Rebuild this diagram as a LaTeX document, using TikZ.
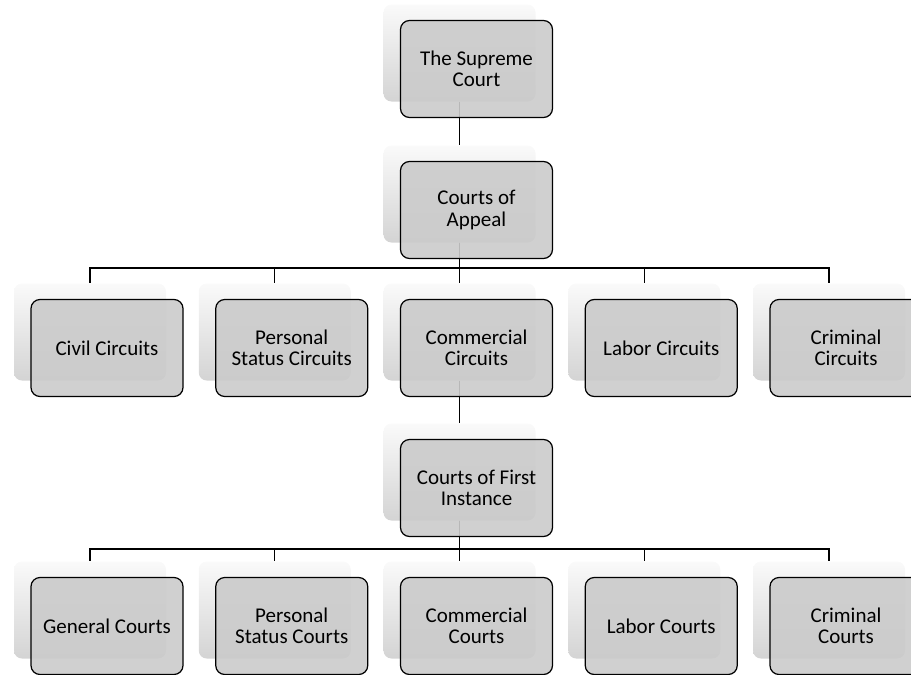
\documentclass[tikz,border=0pt]{standalone}
\usepackage{fontspec}
\setmainfont{Carlito}
\usetikzlibrary{calc}

\begin{document}
\begin{tikzpicture}[x=1pt,y=-1pt,
    card/.style={minimum width=152pt,minimum height=97pt,inner sep=0pt,
      rounded corners=8pt,top color=gray!4,bottom color=gray!34},
    face/.style={minimum width=152pt,minimum height=97pt,inner sep=2pt,
      rounded corners=9pt,draw=black,line width=1.2pt,fill=gray!41,
      fill opacity=0.9,text opacity=1,align=center,
      font=\fontsize{21}{21.5}\selectfont},
    link/.style={line width=1.2pt}]
  \useasboundingbox (0,0) rectangle (911,675);

  % Back cards
  \node[card] (sup) at (459.5,53) {};
  \node[card] (app) at (459.5,194) {};
  \foreach \n/\x in {civ/90,per/274.75,com/459.5,lab/644.25,cri/829}
    \node[card] (\n) at (\x,332) {};
  \node[card] (ins) at (459.5,472) {};
  \foreach \n/\x in {gen/90,pst/274.75,cmc/459.5,lbc/644.25,crc/829}
    \node[card] (\n) at (\x,610) {};

  % Connectors
  \coordinate (bus1) at (0,268);
  \coordinate (bus2) at (0,549);
  \draw[link] (sup.south) -- (app.north);
  \foreach \n in {civ,per,com,lab,cri}
    \draw[link] (app.south) -- (app.south |- bus1) -| (\n.north);
  \draw[link] (com.south) -- (ins.north);
  \foreach \n in {gen,pst,cmc,lbc,crc}
    \draw[link] (ins.south) -- (ins.south |- bus2) -| (\n.north);

  % Front faces
  \node[face] (sup-f) at ($(sup)+(17,16)$) {The Supreme\\Court};
  \node[face] (app-f) at ($(app)+(17,16)$) {Courts of\\Appeal};
  \foreach \n/\t in {civ/Civil Circuits,per/{Personal\\Status Circuits},
      com/{Commercial\\Circuits},lab/Labor Circuits,cri/{Criminal\\Circuits}}
    \node[face] (\n-f) at ($(\n)+(17,16)$) {\t};
  \node[face] (ins-f) at ($(ins)+(17,16)$) {Courts of First\\Instance};
  \foreach \n/\t in {gen/General Courts,pst/{Personal\\Status Courts},
      cmc/{Commercial\\Courts},lbc/Labor Courts,crc/{Criminal\\Courts}}
    \node[face] (\n-f) at ($(\n)+(17,16)$) {\t};
\end{tikzpicture}
\end{document}
